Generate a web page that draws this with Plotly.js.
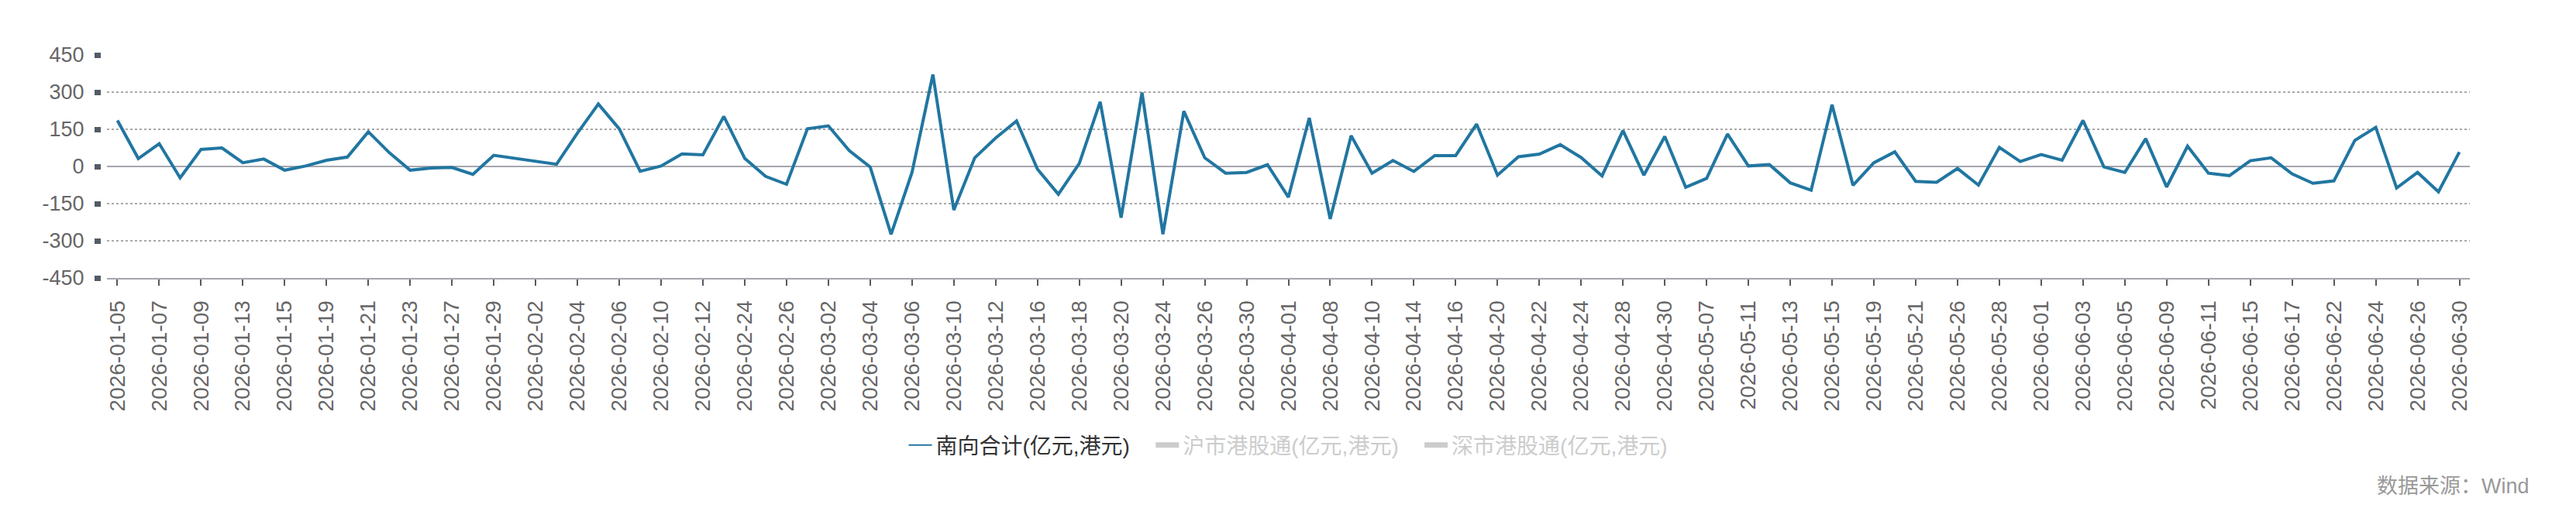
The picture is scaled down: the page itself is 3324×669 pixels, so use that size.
<!DOCTYPE html>
<html>
<head>
<meta charset="utf-8">
<script src="https://cdn.plot.ly/plotly-3.0.1.min.js"></script>
<style>
  html, body { margin: 0; padding: 0; background: #ffffff; }
  #chart { width: 3324px; height: 669px; }
</style>
</head>
<body>
<div id="chart"></div>
<script>
// Trading dates (categories)
const dates = [
  "2026-01-05","2026-01-06","2026-01-07","2026-01-08","2026-01-09","2026-01-12","2026-01-13","2026-01-14","2026-01-15","2026-01-16",
  "2026-01-19","2026-01-20","2026-01-21","2026-01-22","2026-01-23","2026-01-26","2026-01-27","2026-01-28","2026-01-29","2026-01-30",
  "2026-02-02","2026-02-03","2026-02-04","2026-02-05","2026-02-06","2026-02-09","2026-02-10","2026-02-11","2026-02-12","2026-02-13",
  "2026-02-24","2026-02-25","2026-02-26","2026-02-27","2026-03-02","2026-03-03","2026-03-04","2026-03-05","2026-03-06","2026-03-09",
  "2026-03-10","2026-03-11","2026-03-12","2026-03-13","2026-03-16","2026-03-17","2026-03-18","2026-03-19","2026-03-20","2026-03-23",
  "2026-03-24","2026-03-25","2026-03-26","2026-03-27","2026-03-30","2026-03-31","2026-04-01","2026-04-07","2026-04-08","2026-04-09",
  "2026-04-10","2026-04-13","2026-04-14","2026-04-15","2026-04-16","2026-04-17","2026-04-20","2026-04-21","2026-04-22","2026-04-23",
  "2026-04-24","2026-04-27","2026-04-28","2026-04-29","2026-04-30","2026-05-06","2026-05-07","2026-05-08","2026-05-11","2026-05-12",
  "2026-05-13","2026-05-14","2026-05-15","2026-05-18","2026-05-19","2026-05-20","2026-05-21","2026-05-22","2026-05-26","2026-05-27",
  "2026-05-28","2026-05-29","2026-06-01","2026-06-02","2026-06-03","2026-06-04","2026-06-05","2026-06-08","2026-06-09","2026-06-10",
  "2026-06-11","2026-06-12","2026-06-15","2026-06-16","2026-06-17","2026-06-18","2026-06-22","2026-06-23","2026-06-24","2026-06-25",
  "2026-06-26","2026-06-29","2026-06-30"
];

// 南向合计 (亿元, 港元)
const southboundTotal = [
  186, 32, 92, -46, 69, 75, 15, 30, -15, 2,
  25, 38, 140, 56, -15, -6, -4, -32, 45, 32,
  21, 9, 135, 252, 152, -19, 2, 51, 47, 202,
  33, -40, -72, 152, 164, 64, -2, -274, -24, 371,
  -176, 35, 115, 184, -11, -112, 12, 261, -207, 298,
  -273, 223, 35, -27, -24, 7, -124, 196, -212, 124,
  -27, 24, -20, 44, 44, 171, -35, 39, 50, 88,
  36, -38, 145, -35, 121, -84, -48, 131, 2, 8,
  -66, -96, 249, -76, 15, 59, -60, -64, -8, -75,
  77, 20, 48, 25, 186, -2, -24, 112, -83, 82,
  -27, -37, 23, 35, -30, -68, -58, 105, 158, -87,
  -24, -102, 58
];

// Hidden series (switched off in the chart, shown only in the legend; values not visible)
const shanghaiConnect = [null];
const shenzhenConnect = [null];

const seriesNames = ["南向合计(亿元,港元)", "沪市港股通(亿元,港元)", "深市港股通(亿元,港元)"];
const yTicks = [-450, -300, -150, 0, 150, 300, 450];
const xTickLabels = dates.filter((d, i) => i % 2 === 0);
const sourceText = "数据来源：Wind";

const FONT = "Liberation Sans, Arial, Noto Sans CJK SC, sans-serif";
const GAP = "&nbsp;&nbsp;&nbsp;";

const traces = [
  {
    type: "scatter", mode: "lines", name: seriesNames[0],
    x: dates, y: southboundTotal,
    line: { color: "#2176a1", width: 4 },
    showlegend: false,
    hoverinfo: "x+y"
  },
  {
    // legend entry for the main series (thin key line as in the original)
    type: "scatter", mode: "lines", name: seriesNames[0] + GAP,
    x: [dates[0]], y: [null],
    line: { color: "#2176a1", width: 2 }
  },
  {
    type: "scatter", mode: "lines",
    name: '<span style="color:#9a9a9a">' + seriesNames[1] + '</span>' + GAP,
    x: shanghaiConnect.map((v, i) => dates[i]), y: shanghaiConnect,
    visible: "legendonly",
    line: { color: "#9a9a9a", width: 7 }
  },
  {
    type: "scatter", mode: "lines",
    name: '<span style="color:#9a9a9a">' + seriesNames[2] + '</span>',
    x: shenzhenConnect.map((v, i) => dates[i]), y: shenzhenConnect,
    visible: "legendonly",
    line: { color: "#9a9a9a", width: 7 }
  }
];

const W = 3324, H = 669;
const mL = 100, mR = 137;
const paperW = W - mL - mR;
const plotLeftPx = 138;
const yAxisPx = 130;

const layout = {
  width: W, height: H,
  paper_bgcolor: "#ffffff", plot_bgcolor: "#ffffff",
  margin: { l: mL, r: mR, t: 71, b: 310, pad: 0 },
  font: { family: FONT, color: "#666666", size: 27 },
  showlegend: true,
  legend: {
    orientation: "h",
    x: (1662 - mL) / paperW, xanchor: "center",
    y: -0.75, yanchor: "middle",
    font: { family: FONT, size: 28, color: "#333333" },
    itemwidth: 30,
    bgcolor: "rgba(0,0,0,0)"
  },
  xaxis: {
    type: "category",
    domain: [(plotLeftPx - mL) / paperW, 1],
    range: [-0.5, dates.length - 0.5],
    tickmode: "array",
    tickvals: xTickLabels,
    ticktext: xTickLabels,
    tickangle: -90,
    ticks: "outside", ticklen: 8, tickwidth: 2, tickcolor: "#555a62",
    ticklabelstandoff: 8,
    tickfont: { family: FONT, size: 28, color: "#666666" },
    showline: true, linecolor: "#a6a6ae", linewidth: 2,
    showgrid: false, zeroline: false,
    fixedrange: true
  },
  yaxis: {
    range: [-450, 450],
    tickmode: "array",
    tickvals: yTicks,
    ticktext: yTicks.map(String),
    anchor: "free",
    position: (yAxisPx - mL) / paperW,
    ticks: "outside", ticklen: 8, tickwidth: 7, tickcolor: "#555b65",
    ticklabelstandoff: 8,
    tickfont: { family: FONT, size: 27, color: "#666666" },
    showline: false,
    showgrid: true, gridcolor: "#a8a8a8", gridwidth: 2, griddash: "dot",
    zeroline: true, zerolinecolor: "#a6a6ae", zerolinewidth: 2,
    fixedrange: true
  },
  annotations: [
    {
      xref: "paper", yref: "paper",
      x: (3266 - mL) / paperW, xanchor: "right",
      y: (359 - 628) / 288, yanchor: "middle",
      text: sourceText, showarrow: false,
      font: { family: FONT, size: 27, color: "#999999" }
    }
  ]
};

Plotly.newPlot("chart", traces, layout, { displayModeBar: false, staticPlot: true });
</script>
</body>
</html>
